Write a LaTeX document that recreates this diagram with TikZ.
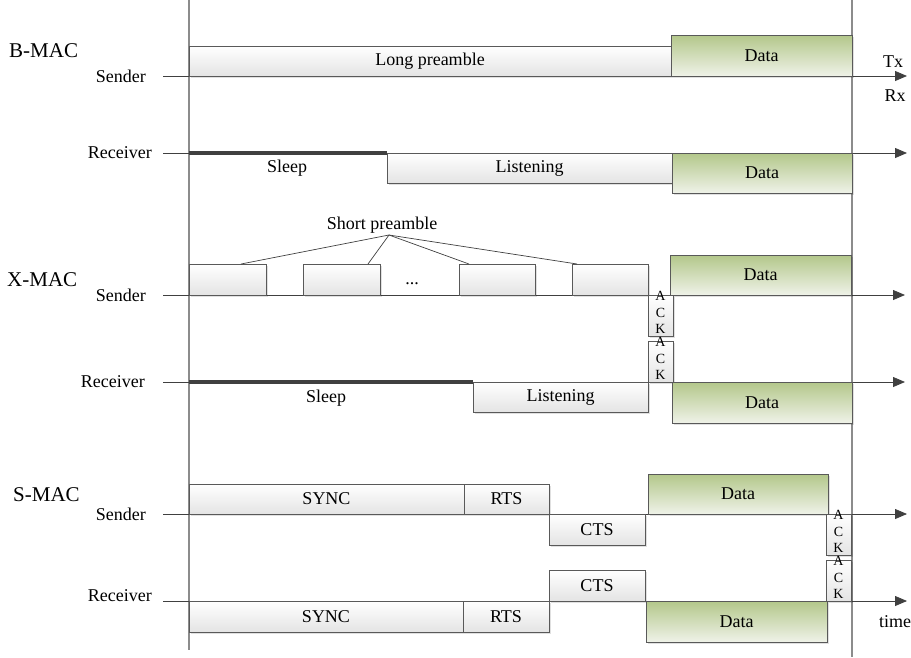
\documentclass[tikz,border=0pt]{standalone}
\usepackage{fontspec}
\setmainfont{Liberation Serif}
\usetikzlibrary{arrows.meta,shadows,calc}
\definecolor{boxline}{HTML}{595959}
\definecolor{axisline}{HTML}{404040}
\definecolor{vline}{HTML}{8C8C8C}
\definecolor{gtop}{HTML}{B3C78A}
\definecolor{gbot}{HTML}{EFF2E8}
\definecolor{wbot}{HTML}{E4E4E4}
\newcommand\lblfont{\fontsize{18}{21}\selectfont}
\newcommand\ttlfont{\fontsize{21}{24}\selectfont}
\newcommand\ackt{\raisebox{-4pt}{\smash{\fontsize{14}{16.5}\selectfont\begin{tabular}{@{}c@{}}A\\C\\K\end{tabular}}}}
\newcommand\bx[7]{\node[#1, minimum width={#5-#3}, minimum height={#6-#4}] (#2) at ({(#3+#5)/2},{(#4+#6)/2}) {#7};}
\begin{document}
\begin{tikzpicture}[x=1pt,y=-1pt,
  box/.style={draw=boxline, line width=0.8pt, inner sep=0pt, outer sep=0pt, font=\lblfont,
    drop shadow={shadow xshift=1.5pt, shadow yshift=-1.5pt, fill=black, opacity=0.12}},
  wbox/.style={box, top color=white, bottom color=wbot},
  gbox/.style={box, top color=gtop, bottom color=gbot},
  axis/.style={draw=axisline, line width=0.8pt, -{Triangle[length=12pt,width=10pt]}},
  sleepline/.style={draw=axisline, line width=3.2pt},
  guide/.style={draw=vline, line width=1.2pt},
  conn/.style={draw=axisline, line width=0.7pt},
  lbl/.style={font=\lblfont, inner sep=0pt},
  ttl/.style={font=\ttlfont, inner sep=0pt, anchor=west}]
\useasboundingbox (0,0) rectangle (911,657);

% guide lines
\coordinate (g1a) at (189,0); \coordinate (g1b) at (189,650);
\coordinate (g2a) at (852,0); \coordinate (g2b) at (852,657);
\draw[guide] (g1a) -- (g1b);
\draw[guide] (g2a) -- (g2b);

% axes
\coordinate (bs0) at (163,76);  \coordinate (bs1) at (907,76);
\coordinate (br0) at (163,153); \coordinate (br1) at (907,153);
\coordinate (xs0) at (163,295); \coordinate (xs1) at (905,295);
\coordinate (xr0) at (163,382); \coordinate (xr1) at (905,382);
\coordinate (ss0) at (163,514); \coordinate (ss1) at (907,514);
\coordinate (sr0) at (163,601); \coordinate (sr1) at (907,601);
\draw[axis] (bs0) -- (bs1);
\draw[axis] (br0) -- (br1);
\draw[axis] (xs0) -- (xs1);
\draw[axis] (xr0) -- (xr1);
\draw[axis] (ss0) -- (ss1);
\draw[axis] (sr0) -- (sr1);

% sleep lines
\coordinate (bsl0) at (189,153); \coordinate (bsl1) at (387,153);
\coordinate (xsl0) at (189,382); \coordinate (xsl1) at (473,382);
\draw[sleepline] (bsl0) -- (bsl1);
\draw[sleepline] (xsl0) -- (xsl1);

% titles and labels
\node[ttl] (tb) at (9,51) {B-MAC};
\node[ttl] (tx) at (7,280) {X-MAC};
\node[ttl] (ts) at (13,495) {S-MAC};
\node[lbl, anchor=east] (lbs) at (146,76) {Sender};
\node[lbl, anchor=east] (lbr) at (152,153) {Receiver};
\node[lbl, anchor=east] (lxs) at (146,295) {Sender};
\node[lbl, anchor=east] (lxr) at (145,382) {Receiver};
\node[lbl, anchor=east] (lss) at (146,514) {Sender};
\node[lbl, anchor=east] (lsr) at (152,596) {Receiver};
\node[lbl] (tx1) at (893,62) {Tx};
\node[lbl] (rx1) at (895,96) {Rx};
\node[lbl] (time) at (895,622) {time};
\node[lbl] (bslp) at (287,168) {Sleep};
\node[lbl] (xslp) at (326,398) {Sleep};

% B-MAC boxes
\bx{wbox}{lp}{189}{46}{671}{76}{Long preamble}
\bx{gbox}{bd1}{671}{35}{852}{76}{Data}
\bx{wbox}{blis}{387}{153}{672}{183}{Listening}
\bx{gbox}{bd2}{672}{153}{852}{193}{Data}

% X-MAC boxes
\bx{wbox}{sp1}{189}{264}{266}{295}{}
\bx{wbox}{sp2}{303}{264}{380}{295}{}
\bx{wbox}{sp3}{459}{264}{535}{295}{}
\bx{wbox}{sp4}{572}{264}{648}{295}{}
\node[lbl] (dots) at (412,284) {...};
\bx{gbox}{xd1}{670}{255}{851}{295}{Data}
\bx{wbox}{ack1}{648}{295}{673}{336}{\ackt}
\bx{wbox}{ack2}{648}{341}{673}{382}{\ackt}
\bx{wbox}{xlis}{473}{382}{648}{412}{Listening}
\bx{gbox}{xd2}{672}{382}{852}{423}{Data}

\node[lbl] (spt) at (382,225) {Short preamble};
\coordinate (spc) at (389,235);
\draw[conn] (spc) -- ([xshift=13.5pt]sp1.north);
\draw[conn] (spc) -- ([xshift=26.5pt]sp2.north);
\draw[conn] (spc) -- ([xshift=-28pt]sp3.north);
\draw[conn] (spc) -- ([xshift=-33pt]sp4.north);

% S-MAC boxes
\bx{wbox}{sync1}{189}{484}{464}{514}{SYNC}
\bx{wbox}{rts1}{464}{484}{549}{514}{RTS}
\bx{wbox}{cts1}{549}{514}{645}{545}{CTS}
\bx{gbox}{sd1}{648}{474}{828}{514}{Data}
\bx{wbox}{ack3}{826}{514}{851}{555}{\ackt}
\bx{wbox}{cts2}{549}{570}{645}{601}{CTS}
\bx{wbox}{sync2}{189}{601}{463}{632}{SYNC}
\bx{wbox}{rts2}{463}{601}{549}{632}{RTS}
\bx{gbox}{sd2}{646}{601}{827}{642}{Data}
\bx{wbox}{ack4}{826}{560}{851}{601}{\ackt}
\end{tikzpicture}
\end{document}
